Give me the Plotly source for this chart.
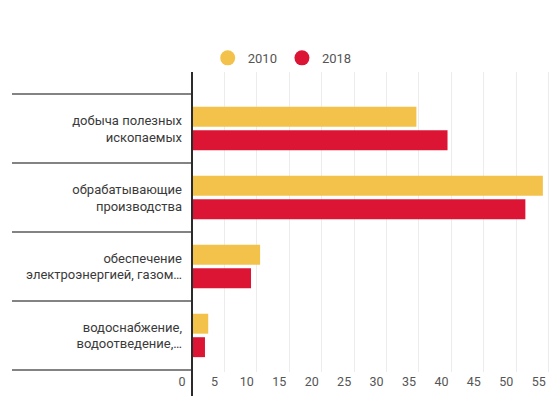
import plotly.graph_objects as go

categories = [
    "добыча полезных<br>ископаемых",
    "обрабатывающие<br>производства",
    "обеспечение<br>электроэнергией, газом…",
    "водоснабжение,<br>водоотведение,…",
]
series_names = ["2010", "2018"]
values_2010 = [34.6, 54.1, 10.5, 2.5]
values_2018 = [39.4, 51.4, 9.1, 2.0]
x_ticks = [0, 5, 10, 15, 20, 25, 30, 35, 40, 45, 50, 55]

colors = ["#F3C24A", "#DC1535"]
FONT = "Roboto"

fig = go.Figure()
for name, vals, col in zip(series_names, [values_2010, values_2018], colors):
    fig.add_trace(go.Bar(
        y=categories, x=vals, orientation="h", name=name,
        marker=dict(color=col, line=dict(width=0)),
        showlegend=False, hoverinfo="x",
    ))
# legend entries with circular symbols
for name, col in zip(series_names, colors):
    fig.add_trace(go.Scatter(
        x=[None], y=[None], mode="markers", name=name,
        marker=dict(color=col, size=15, symbol="circle"),
    ))

n = len(categories)
# category separator lines in label area
for i in range(n + 1):
    fig.add_shape(type="line", xref="paper", yref="y",
                  x0=-180 / 358, x1=0, y0=i - 0.5, y1=i - 0.5,
                  line=dict(color="#5a5a5a", width=1.5), layer="above")
# vertical axis line
fig.add_shape(type="line", xref="paper", yref="paper",
              x0=0, x1=0, y0=-0.08, y1=1.0,
              line=dict(color="#2b2b2b", width=2), layer="above")

fig.update_layout(
    width=550, height=407,
    margin=dict(l=192, r=0, t=72, b=35),
    paper_bgcolor="white", plot_bgcolor="white",
    font=dict(family=FONT, color="#3a3a3a", size=12),
    barmode="group", bargap=0.32, bargroupgap=0.15,
    legend=dict(orientation="h", x=0.252, y=1.047, xanchor="center", yanchor="middle",
                font=dict(size=13, color="#555555"), itemwidth=30,
                bgcolor="rgba(0,0,0,0)"),
    showlegend=True,
)
fig.update_xaxes(
    range=[0, 55.2], tickvals=x_ticks, showgrid=True, gridcolor="#ececec", gridwidth=1,
    zeroline=False, showline=False, ticks="", ticklabelshift=-10,
    tickfont=dict(size=12.5, color="#555555"), fixedrange=True,
)
fig.update_yaxes(
    categoryorder="array", categoryarray=categories,
    range=[3.53, -0.82], showgrid=False, zeroline=False, showline=False,
    ticks="", ticklabelstandoff=9,
    tickfont=dict(size=13, color="#3a3a3a"), fixedrange=True,
)

fig.write_html("out.html")
